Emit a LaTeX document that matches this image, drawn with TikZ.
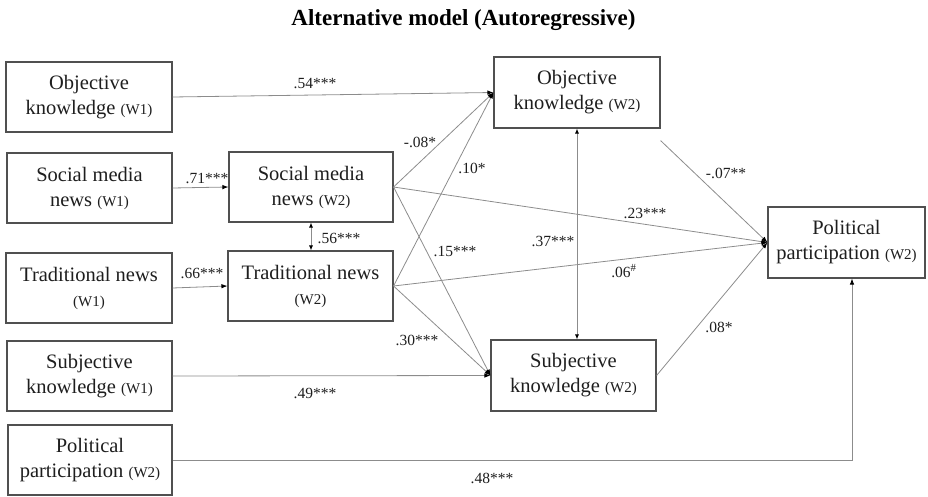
\documentclass[tikz,border=0pt]{standalone}
\usepackage{fontspec}
\setmainfont{Liberation Serif}
\usetikzlibrary{arrows.meta}
\definecolor{boxc}{HTML}{505050}
\definecolor{linec}{HTML}{8C8C8C}
\definecolor{txt}{HTML}{1E1E1E}
\newcommand\wlab[1]{{\fontsize{15}{18}\selectfont(#1)}}
\begin{document}
\begin{tikzpicture}[x=1pt,y=-1pt,
  box/.style={draw=boxc, line width=1.1pt, fill=white, minimum width=165pt, minimum height=70pt,
    align=center, inner sep=0pt, text=txt, font=\fontsize{20.5}{25}\selectfont},
  conn/.style={draw=linec, line width=0.8pt, -{Latex[length=6pt,width=4.5pt,color=black]}},
  dconn/.style={draw=linec, line width=0.8pt, {Latex[length=5pt,width=4pt,color=black]}-{Latex[length=5pt,width=4pt,color=black]}},
  lbl/.style={text=txt, font=\fontsize{15.5}{18}\selectfont, inner sep=0pt},
  ttl/.style={text=black, font=\bfseries\fontsize{23}{27}\selectfont, inner sep=0pt}]
\useasboundingbox (0,0) rectangle (928,497);

\node[ttl] (title) at (463.5,20) {Alternative model (Autoregressive)};

\node[box, minimum width=166pt] (ok1) at (89,97) {Objective\\knowledge \wlab{W1}};
\node[box] (smn1) at (89.5,188) {Social media\\news \wlab{W1}};
\node[box, minimum width=166pt] (tn1) at (89,288) {Traditional news\\\wlab{W1}};
\node[box] (sk1) at (89.5,376) {Subjective\\knowledge \wlab{W1}};
\node[box, minimum width=164pt] (pp1) at (90,460) {Political\\participation \wlab{W2}};
\node[box, minimum width=164pt] (smn2) at (311,187) {Social media\\news \wlab{W2}};
\node[box] (tn2) at (310.5,286) {Traditional news\\\wlab{W2}};
\node[box, minimum width=166pt, minimum height=71pt] (ok2) at (577,92.5) {Objective\\knowledge \wlab{W2}};
\node[box, minimum height=71pt] (sk2) at (573.5,375.5) {Subjective\\knowledge \wlab{W2}};
\node[box, minimum width=157pt, minimum height=71pt] (pp2) at (846.5,242.5) {Political\\participation \wlab{W2}};

\draw[conn] (ok1.east) -- (ok2.west);
\draw[conn] (smn1.east) -- (smn2.west);
\draw[conn] (tn1.east) -- (tn2.west);
\draw[conn] (sk1.east) -- (sk2.west);
\draw[conn] (pp1.east) -| ([xshift=5.5pt]pp2.south);
\draw[dconn] (smn2.south) -- (smn2.south |- tn2.north);
\draw[dconn] (ok2.south) -- (ok2.south |- sk2.north);
\draw[conn] (smn2.east) -- (ok2.west);
\draw[conn] (tn2.east) -- (ok2.west);
\draw[conn] (smn2.east) -- (pp2.west);
\draw[conn] (smn2.east) -- (sk2.west);
\draw[conn] (tn2.east) -- (sk2.west);
\draw[conn] (tn2.east) -- (pp2.west);
\draw[conn] ([yshift=-12pt]ok2.south east) -- (pp2.west);
\draw[conn] (sk2.east) -- (pp2.west);

\node[lbl] (l54) at (315,84) {.54***};
\node[lbl] (l71) at (207,178) {.71***};
\node[lbl] (l66) at (202,273) {.66***};
\node[lbl] (l56) at (339,238) {.56***};
\node[lbl] (l08a) at (420,142) {-.08*};
\node[lbl] (l10) at (472,168) {.10*};
\node[lbl] (l23) at (645,213) {.23***};
\node[lbl] (l15) at (455,251) {.15***};
\node[lbl] (l37) at (553,241) {.37***};
\node[lbl] (l06) at (624,271) {.06\textsuperscript{\#}};
\node[lbl] (l30) at (417,340) {.30***};
\node[lbl] (l07) at (726,173) {-.07**};
\node[lbl] (l08b) at (719,327) {.08*};
\node[lbl] (l49) at (315,393) {.49***};
\node[lbl] (l48) at (492,478) {.48***};
\end{tikzpicture}
\end{document}
